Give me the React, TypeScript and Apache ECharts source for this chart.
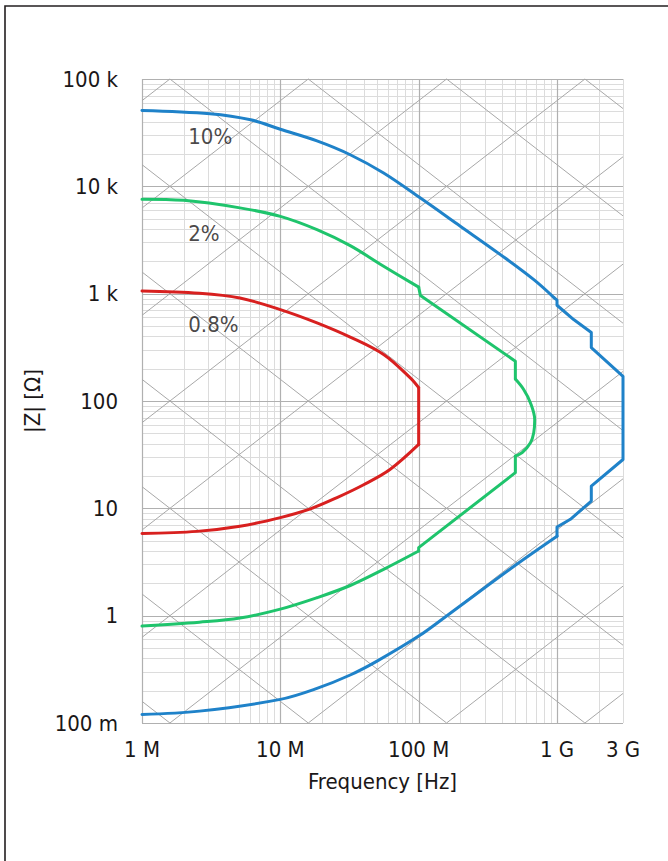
import React, { useEffect, useRef } from 'react';
import * as echarts from 'echarts';

// ---- axis ticks ----
const xTickValues = [1e6, 1e7, 1e8, 1e9, 3e9];
const xTickLabels = ['1 M', '10 M', '100 M', '1 G', '3 G'];
const yTickValues = [0.1, 1, 10, 100, 1e3, 1e4, 1e5];
const yTickLabels = ['100 m', '1', '10', '100', '1 k', '10 k', '100 k'];

// ---- measurement-range outlines: [frequency Hz, |Z| ohm] ----
// 10 % (blue)
const blueTop: [number, number][] = [
  [1e6, 51000], [3.1e6, 47500], [6.1e6, 41700], [1e7, 34000], [1.84e7, 26500],
  [3.2e7, 19700], [5.58e7, 13300], [1.03e8, 7770], [2e8, 4250], [3.9e8, 2310],
  [6.8e8, 1350], [9.55e8, 914],
];
const blueRight: [number, number][] = [
  [9.55e8, 914], [1e9, 870], [1e9, 780], [1.32e9, 574], [1.77e9, 435], [1.77e9, 315],
  [3e9, 170], [3e9, 28.5], [1.77e9, 16.1], [1.77e9, 11.7], [1.25e9, 7.9],
  [1e9, 6.7], [1e9, 5.5],
];
const blueBottom: [number, number][] = [
  [1e6, 0.12], [2.6e6, 0.129], [1e7, 0.166], [1.84e7, 0.21], [3.2e7, 0.28],
  [5e7, 0.377], [1e8, 0.645], [1.6e8, 1.0], [5e8, 2.95], [1e9, 5.5],
];
// 2 % (green)
const greenTop: [number, number][] = [
  [1e6, 7600], [2e6, 7400], [5.1e6, 6300], [1e7, 5250], [1.84e7, 3950],
  [3.2e7, 2800], [5.58e7, 1800], [1e8, 1150],
];
const greenUpperStep: [number, number][] = [
  [1e8, 1150], [1.03e8, 960], [5e8, 235], [5e8, 160],
];
const greenBulge: [number, number][] = [
  [5e8, 160], [5.74e8, 128], [6.43e8, 96], [6.9e8, 67], [6.79e8, 50.6],
  [6.43e8, 40.8], [5.6e8, 33], [5e8, 30.7],
];
const greenLowerStep: [number, number][] = [
  [5e8, 30.7], [5e8, 21.5], [1e8, 4.3], [1e8, 4.0],
];
const greenBottom: [number, number][] = [
  [1e6, 0.8], [2.6e6, 0.87], [5.1e6, 0.95], [1e7, 1.15], [1.84e7, 1.47],
  [3.2e7, 1.91], [5.58e7, 2.7], [1e8, 4.0],
];
// 0.8 % (red)
const redTop: [number, number][] = [
  [1e6, 1060], [2.6e6, 1010], [5.1e6, 912], [1e7, 711], [1.84e7, 535],
  [3.2e7, 394], [5.58e7, 271], [8.7e7, 164], [1e8, 133],
];
const redRight: [number, number][] = [[1e8, 133], [1e8, 39.4]];
const redBottom: [number, number][] = [
  [1e6, 5.84], [2.5e6, 6.1], [5.1e6, 6.8], [1e7, 8.2], [1.65e7, 9.9],
  [2.57e7, 12.6], [4e7, 16.6], [6.2e7, 23], [1e8, 39.4],
];

const seriesNames = ['10%', '2%', '0.8%'];
const seriesColors = ['#1f82c9', '#1fc46c', '#d8201f'];
const labelFreq = [2.16e6, 2.16e6, 2.16e6];
const labelZ = [29000, 3660, 515];

// ---- constant L / C reference lines of the impedance chart ----
const inductancesH = [1e-2, 1e-3, 1e-4, 1e-5, 1e-6, 1e-7, 1e-8, 1e-9, 1e-10, 1e-11];
const capacitancesF = [1e-6, 1e-7, 1e-8, 1e-9, 1e-10, 1e-11, 1e-12, 1e-13, 1e-14, 1e-15];
const gridMantissas = [2, 3, 4, 5, 6, 7, 8, 9];

const X_MIN = 1e6, X_MAX = 3e9, Y_MIN = 0.1, Y_MAX = 1e5;
const FONT = "'DejaVu Sans Condensed', 'Liberation Sans Narrow', sans-serif";
const TEXT = '#1a1718';
const FS = 22;

function buildGrid() {
  const major: number[][] = [];
  const minor: number[][] = [];
  const xDecades = [1e6, 1e7, 1e8, 1e9];
  const yDecades = [0.1, 1, 10, 100, 1e3, 1e4, 1e5];
  xDecades.forEach((d) => {
    major.push([d, Y_MIN, d, Y_MAX]);
    gridMantissas.forEach((m) => {
      const v = d * m;
      if (v <= X_MAX * 1.0001) minor.push([v, Y_MIN, v, Y_MAX]);
    });
  });
  yDecades.forEach((d) => {
    major.push([X_MIN, d, X_MAX, d]);
    if (d < Y_MAX)
      gridMantissas.forEach((m) => minor.push([X_MIN, d * m, X_MAX, d * m]));
  });
  return { major, minor };
}

function buildDiagonals() {
  const lx0 = Math.log10(X_MIN), lx1 = Math.log10(X_MAX);
  const ly0 = Math.log10(Y_MIN), ly1 = Math.log10(Y_MAX);
  const l2p = Math.log10(2 * Math.PI);
  const out: number[][] = [];
  inductancesH.forEach((L) => {
    const k = l2p + Math.log10(L); // logZ = logf + k
    const a = Math.max(lx0, ly0 - k), b = Math.min(lx1, ly1 - k);
    if (b > a) out.push([10 ** a, 10 ** (a + k), 10 ** b, 10 ** (b + k)]);
  });
  capacitancesF.forEach((C) => {
    const k = -l2p - Math.log10(C); // logZ = -logf + k
    const a = Math.max(lx0, k - ly1), b = Math.min(lx1, k - ly0);
    if (b > a) out.push([10 ** a, 10 ** (k - a), 10 ** b, 10 ** (k - b)]);
  });
  return out;
}

function gridLineSeries(data: number[][], color: string, width: number, crisp: boolean) {
  return {
    type: 'custom',
    silent: true,
    encode: { x: [0, 2], y: [1, 3] },
    data,
    renderItem: (_p: any, api: any) => {
      const p1 = api.coord([api.value(0), api.value(1)]);
      const p2 = api.coord([api.value(2), api.value(3)]);
      let [x1, y1] = p1;
      let [x2, y2] = p2;
      if (crisp) {
        if (Math.abs(x1 - x2) < 0.01) { x1 = x2 = Math.round(x1) + 0.5; }
        if (Math.abs(y1 - y2) < 0.01) { y1 = y2 = Math.round(y1) + 0.5; }
      }
      return {
        type: 'line',
        shape: { x1, y1, x2, y2 },
        style: { stroke: color, lineWidth: width, fill: 'none' },
      };
    },
  };
}

function curve(name: string, data: [number, number][], color: string, smooth: number) {
  return {
    type: 'line',
    name,
    data,
    showSymbol: false,
    symbol: 'none',
    smooth: smooth > 0 ? smooth : false,
    smoothConstraint: false,
    clip: false,
    lineStyle: { color, width: 3, join: 'round', cap: 'round' },
    z: 5,
  };
}

function findLabel(v: number, values: number[], labels: string[]) {
  const lv = Math.log10(v);
  for (let i = 0; i < values.length; i++) {
    if (Math.abs(Math.log10(values[i]) - lv) < 0.01) return labels[i];
  }
  return '';
}

export default function App() {
  const ref = useRef<HTMLDivElement>(null);
  useEffect(() => {
    if (!ref.current) return;
    const chart = echarts.init(ref.current, undefined, { renderer: 'svg' });
    const { major, minor } = buildGrid();
    const diag = buildDiagonals();
    const [cB, cG, cR] = seriesColors;
    const [nB, nG, nR] = seriesNames;
    const S = 0.35;
    const option: any = {
      animation: false,
      backgroundColor: '#ffffff',
      grid: { left: 142, top: 79, width: 481, height: 644, containLabel: false, outerBoundsMode: 'none' },
      xAxis: {
        type: 'log', logBase: 10, min: X_MIN, max: X_MAX,
        name: 'Frequency [Hz]', nameLocation: 'middle', nameGap: 47,
        nameTextStyle: { fontFamily: FONT, fontSize: FS, color: TEXT },
        axisLine: { show: false }, axisTick: { show: false }, splitLine: { show: false },
        axisLabel: {
          fontFamily: FONT, fontSize: FS, color: TEXT, margin: 15,
          showMinLabel: true, showMaxLabel: true,
          formatter: (v: number) => findLabel(v, xTickValues, xTickLabels),
        },
      },
      yAxis: {
        type: 'log', logBase: 10, min: Y_MIN, max: Y_MAX,
        name: '|Z| [Ω]', nameLocation: 'middle', nameGap: 84, nameRotate: 90,
        nameTextStyle: { fontFamily: FONT, fontSize: FS, color: TEXT },
        axisLine: { show: false }, axisTick: { show: false }, splitLine: { show: false },
        axisLabel: {
          fontFamily: FONT, fontSize: FS, color: TEXT, margin: 24,
          padding: [8, 0, 0, 0],
          showMinLabel: true, showMaxLabel: true,
          formatter: (v: number) => findLabel(v, yTickValues, yTickLabels),
        },
      },
      graphic: [
        {
          type: 'rect', silent: true, z: 100,
          shape: { x: 5, y: 6, width: 720, height: 900 },
          style: { fill: 'none', stroke: '#231f20', lineWidth: 1.6 },
        },
      ],
      series: [
        gridLineSeries(minor, '#dcdcdc', 1, true),
        gridLineSeries(major, '#b0b0b0', 1.2, true),
        gridLineSeries(diag, '#a8a8a8', 1, false),
        curve(nB, blueTop, cB, S),
        curve(nB, blueRight, cB, 0),
        curve(nB, blueBottom, cB, S),
        curve(nG, greenTop, cG, S),
        curve(nG, greenUpperStep, cG, 0),
        curve(nG, greenBulge, cG, S),
        curve(nG, greenLowerStep, cG, 0),
        curve(nG, greenBottom, cG, S),
        curve(nR, redTop, cR, S),
        curve(nR, redRight, cR, 0),
        curve(nR, redBottom, cR, S),
        {
          type: 'scatter',
          symbolSize: 0,
          silent: true,
          data: seriesNames.map((n, i) => ({ name: n, value: [labelFreq[i], labelZ[i]] })),
          label: {
            show: true, position: 'right', distance: 0,
            formatter: (p: any) => p.name,
            fontFamily: FONT, fontSize: FS, color: TEXT,
          },
          z: 6,
        },
      ],
    };
    chart.setOption(option);
    return () => chart.dispose();
  }, []);
  return (
    <div
      ref={ref}
      style={{ position: 'absolute', left: 0, top: 0, width: 668, height: 861 }}
    />
  );
}
